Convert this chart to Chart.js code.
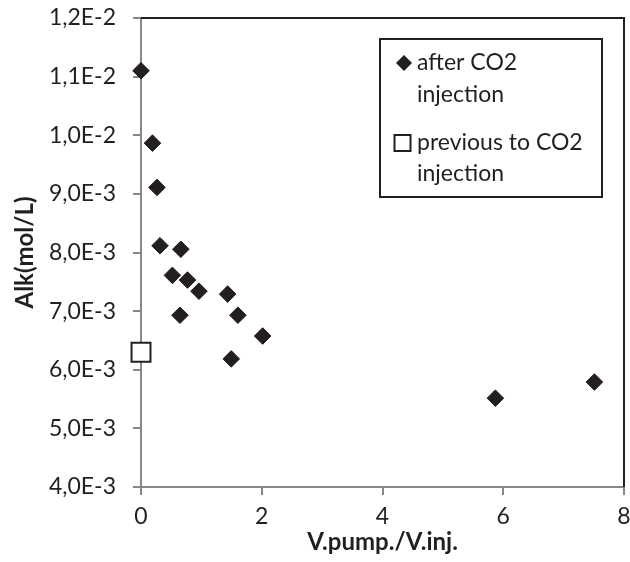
<!DOCTYPE html>
<html>
<head>
<meta charset="utf-8">
<script src="https://cdn.jsdelivr.net/npm/chart.js@4"></script>
<style>
  html, body { margin: 0; padding: 0; background: #fff; }
  #wrap { position: relative; width: 630px; height: 562px; }
</style>
</head>
<body>
<div id="wrap"><canvas id="chart" width="630" height="562"></canvas></div>
<script>
// datos
const afterX  = [0, 0.19, 0.265, 0.315, 0.66, 0.52, 0.77, 0.96, 1.435, 0.645, 1.605, 2.015, 1.495, 5.87, 7.51];
const afterY  = [11.10e-3, 9.865e-3, 9.11e-3, 8.115e-3, 8.055e-3, 7.61e-3, 7.53e-3, 7.34e-3, 7.29e-3, 6.93e-3, 6.93e-3, 6.575e-3, 6.185e-3, 5.515e-3, 5.79e-3];
const prevX   = [0];
const prevY   = [6.30e-3];
const legendLines = [['after CO2', 'injection'], ['previous to CO2', 'injection']];
const xTitle = 'V.pump./V.inj.';
const yTitle = 'Alk(mol/L)';

const INK  = '#231f20';
const AXIS = '#888888';
const FONT = "Lato, 'Open Sans', sans-serif";

Chart.defaults.font.family = FONT;
Chart.defaults.color = INK;

const toPts = (xs, ys) => xs.map((x, i) => ({ x, y: ys[i] }));

// marco superior/derecho y leyenda dibujados a mano
const framePlugin = {
  id: 'frame',
  beforeDatasetsDraw(chart) {
    const { ctx, chartArea: a } = chart;
    ctx.save();
    ctx.strokeStyle = INK;
    ctx.lineWidth = 2;
    ctx.beginPath();
    ctx.moveTo(a.left, a.top);
    ctx.lineTo(a.right, a.top);
    ctx.lineTo(a.right, a.bottom);
    ctx.stroke();
    ctx.restore();
  },
  afterDraw(chart) {
    const ctx = chart.ctx;
    ctx.save();
    ctx.fillStyle = '#fff';
    ctx.fillRect(380, 39, 222, 158);
    ctx.strokeStyle = INK;
    ctx.lineWidth = 2;
    ctx.strokeRect(380, 39, 222, 158);

    // diamante
    ctx.fillStyle = INK;
    ctx.beginPath();
    ctx.moveTo(404 - 8, 63);
    ctx.lineTo(404, 63 - 8);
    ctx.lineTo(404 + 8, 63);
    ctx.lineTo(404, 63 + 8);
    ctx.closePath();
    ctx.fill();
    // cuadrado
    ctx.lineWidth = 2;
    ctx.strokeRect(394.5, 135, 16, 16);

    ctx.font = '23px ' + FONT;
    ctx.textBaseline = 'middle';
    ctx.textAlign = 'left';
    const ys = [[63, 95], [143, 174]];
    legendLines.forEach((lines, i) => {
      lines.forEach((t, j) => ctx.fillText(t, 417, ys[i][j]));
    });
    ctx.restore();
  }
};

const fmtExp = v => v.toExponential(1).replace('.', ',').replace('e', 'E');

new Chart(document.getElementById('chart'), {
  type: 'scatter',
  data: {
    datasets: [
      { label: 'after CO2 injection', data: toPts(afterX, afterY),
        pointStyle: 'rectRot', pointRadius: 8.3, pointBorderWidth: 1,
        backgroundColor: INK, borderColor: INK, clip: false },
      { label: 'previous to CO2 injection', data: toPts(prevX, prevY),
        pointStyle: 'rect', pointRadius: 13.4, pointBorderWidth: 2,
        backgroundColor: '#fff', borderColor: INK, clip: false }
    ]
  },
  options: {
    responsive: false,
    animation: false,
    layout: { autoPadding: false, padding: { top: 18, right: 6, left: 0, bottom: 0 } },
    plugins: { legend: { display: false }, tooltip: { enabled: false } },
    scales: {
      x: {
        min: 0, max: 8,
        afterFit: s => { s.height = 75; s.paddingLeft = 0; s.paddingRight = 0; },
        ticks: { stepSize: 2, padding: 8, font: { size: 23 }, color: INK },
        grid: { drawOnChartArea: false, drawTicks: true, tickLength: 8, color: AXIS, lineWidth: 2 },
        border: { color: AXIS, width: 2 },
        title: { display: true, text: xTitle, font: { size: 24, weight: 'bold' }, color: INK, padding: { top: 0, bottom: 5 } }
      },
      y: {
        min: 0.004, max: 0.012,
        afterFit: s => { s.width = 141; s.paddingTop = 0; s.paddingBottom = 0; },
        ticks: { stepSize: 0.001, padding: 17, font: { size: 23 }, color: INK, callback: v => fmtExp(v) },
        grid: { drawOnChartArea: false, drawTicks: true, tickLength: 8, color: AXIS, lineWidth: 2 },
        border: { color: AXIS, width: 2 },
        title: { display: true, text: yTitle, font: { size: 24, weight: 'bold' }, color: INK, padding: { top: 11, bottom: 0 } }
      }
    }
  },
  plugins: [framePlugin]
});
</script>
</body>
</html>
